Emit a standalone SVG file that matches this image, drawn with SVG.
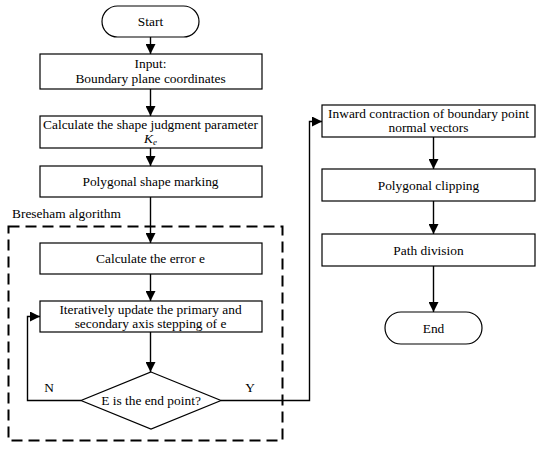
<svg xmlns="http://www.w3.org/2000/svg" width="550" height="451" viewBox="0 0 550 451">
<style>
.box{fill:#fff;stroke:#000;stroke-width:1.2}
.t{font-family:"Liberation Serif","DejaVu Serif",serif;font-size:13.4px;fill:#000;text-anchor:middle}
.c{fill:none;stroke:#000;stroke-width:1.4}
</style>
<defs>
<marker id="ah" viewBox="0 0 10 10" refX="10" refY="5" markerWidth="10" markerHeight="10" markerUnits="userSpaceOnUse" orient="auto">
<path d="M0,0 L10,5 L0,10 Z" fill="#000"/>
</marker>
</defs>
<rect width="550" height="451" fill="#fff"/>
<g id="bresenham-frame">
<rect x="8.5" y="226.5" width="274" height="214" fill="none" stroke="#000" stroke-width="2" stroke-dasharray="11,6"/>
<text class="t" x="12" y="218" style="text-anchor:start">Breseham algorithm</text>
</g>
<g id="connectors">
<line class="c" x1="150.5" y1="37" x2="150.5" y2="54" marker-end="url(#ah)"/>
<line class="c" x1="150.5" y1="89" x2="150.5" y2="116" marker-end="url(#ah)"/>
<line class="c" x1="150.5" y1="148" x2="150.5" y2="166" marker-end="url(#ah)"/>
<line class="c" x1="150.5" y1="197" x2="150.5" y2="243" marker-end="url(#ah)"/>
<line class="c" x1="150.5" y1="274" x2="150.5" y2="301" marker-end="url(#ah)"/>
<line class="c" x1="150.5" y1="332" x2="150.5" y2="372" marker-end="url(#ah)"/>
<polyline class="c" points="81,400.5 27.5,400.5 27.5,316.5 40,316.5" marker-end="url(#ah)"/>
<polyline class="c" points="221,400.5 309.5,400.5 309.5,121.5 322,121.5" marker-end="url(#ah)"/>
<line class="c" x1="433.5" y1="137" x2="433.5" y2="169" marker-end="url(#ah)"/>
<line class="c" x1="433.5" y1="201" x2="433.5" y2="234" marker-end="url(#ah)"/>
<line class="c" x1="433.5" y1="266" x2="433.5" y2="312" marker-end="url(#ah)"/>
<text class="t" x="49" y="392">N</text>
<text class="t" x="250" y="392">Y</text>
</g>
<g id="start">
<rect class="box" x="102" y="6" width="97" height="31" rx="15.5"/>
<text class="t" x="150.5" y="26">Start</text>
</g>
<g id="input">
<rect class="box" x="40" y="54" width="222" height="35"/>
<text class="t" x="150.5" y="68">Input:</text>
<text class="t" x="150.5" y="83">Boundary plane coordinates</text>
</g>
<g id="calc-shape">
<rect class="box" x="40" y="116" width="222" height="32"/>
<text class="t" x="150.5" y="129">Calculate the shape judgment parameter</text>
<text class="t" x="150.5" y="143" font-style="italic">K<tspan font-size="9" dy="2">e</tspan></text>
</g>
<g id="polygon-marking">
<rect class="box" x="40" y="166" width="222" height="31"/>
<text class="t" x="150.5" y="186">Polygonal shape marking</text>
</g>
<g id="calc-error">
<rect class="box" x="40" y="243" width="222" height="31"/>
<text class="t" x="150.5" y="263">Calculate the error  e</text>
</g>
<g id="iterate">
<rect class="box" x="40" y="301" width="222" height="31"/>
<text class="t" x="150.5" y="314">Iteratively update the primary and</text>
<text class="t" x="150.5" y="328">secondary axis stepping of e</text>
</g>
<g id="decision">
<polygon class="box" points="151,372 221,400.5 151,429 81,400.5"/>
<text class="t" x="151" y="405">E is the end point?</text>
</g>
<g id="inward">
<rect class="box" x="322" y="105" width="213" height="32"/>
<text class="t" x="428.5" y="118">Inward contraction of boundary point</text>
<text class="t" x="428.5" y="132">normal vectors</text>
</g>
<g id="clipping">
<rect class="box" x="322" y="169" width="213" height="32"/>
<text class="t" x="428.5" y="190">Polygonal clipping</text>
</g>
<g id="path-division">
<rect class="box" x="322" y="234" width="213" height="32"/>
<text class="t" x="428.5" y="255">Path division</text>
</g>
<g id="end">
<rect class="box" x="385" y="312" width="97" height="32" rx="16"/>
<text class="t" x="433.5" y="333">End</text>
</g>
</svg>
